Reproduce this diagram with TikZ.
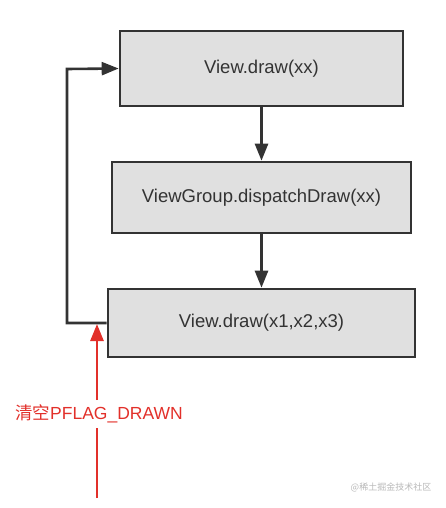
\documentclass[tikz,border=0pt]{standalone}
\usepackage{fontspec}
\setmainfont{Liberation Sans}
\newfontfamily\cjk{Noto Sans CJK SC}
\usetikzlibrary{arrows.meta}
\definecolor{boxfill}{HTML}{E0E0E0}
\definecolor{ink}{HTML}{333333}
\definecolor{redink}{HTML}{E2302A}
\definecolor{wm}{HTML}{B8B8B8}
\begin{document}
\begin{tikzpicture}[x=1pt,y=-1pt,
  fbox/.style={draw=ink,line width=2.6pt,fill=boxfill,text=ink,font=\fontsize{18.5}{22}\selectfont,inner sep=0pt},
  flow/.style={draw=ink,line width=2.6pt,-{Triangle[length=17pt,width=13pt]}},
  redflow/.style={draw=redink,line width=2.6pt,-{Triangle[length=17pt,width=13pt]}}]
\useasboundingbox (0,0) rectangle (446,508);
\node[fbox,minimum width=283pt,minimum height=75pt] (a) at (261.5,68.5) {View.draw(xx)};
\node[fbox,minimum width=299pt,minimum height=71pt] (b) at (261.5,197.5) {ViewGroup.dispatchDraw(xx)};
\node[fbox,minimum width=307pt,minimum height=68pt] (c) at (261.5,323) {View.draw(x1,x2,x3)};
\draw[flow] (a) -- (b);
\draw[flow] (b) -- (c);
\coordinate (lb) at (67,323);
\coordinate (lt) at (67,69);
\draw[flow,line join=miter] (c.west) -- (lb) -- (lt) -- (a.west);
\node[text=redink,font=\fontsize{17.5}{20}\selectfont,inner sep=0pt] (lbl) at (99,414) {{\cjk 清空}PFLAG\_DRAWN};
\coordinate (rs) at (97,498);
\coordinate (rt) at (97,324);
\draw[draw=redink,line width=2.6pt] (rs) -- (97,428);
\draw[redflow] (97,400) -- (rt);
\node[text=wm,font=\cjk\fontsize{9}{10}\selectfont,inner sep=0pt] (wmk) at (391,487) {@稀土掘金技术社区};
\end{tikzpicture}
\end{document}
